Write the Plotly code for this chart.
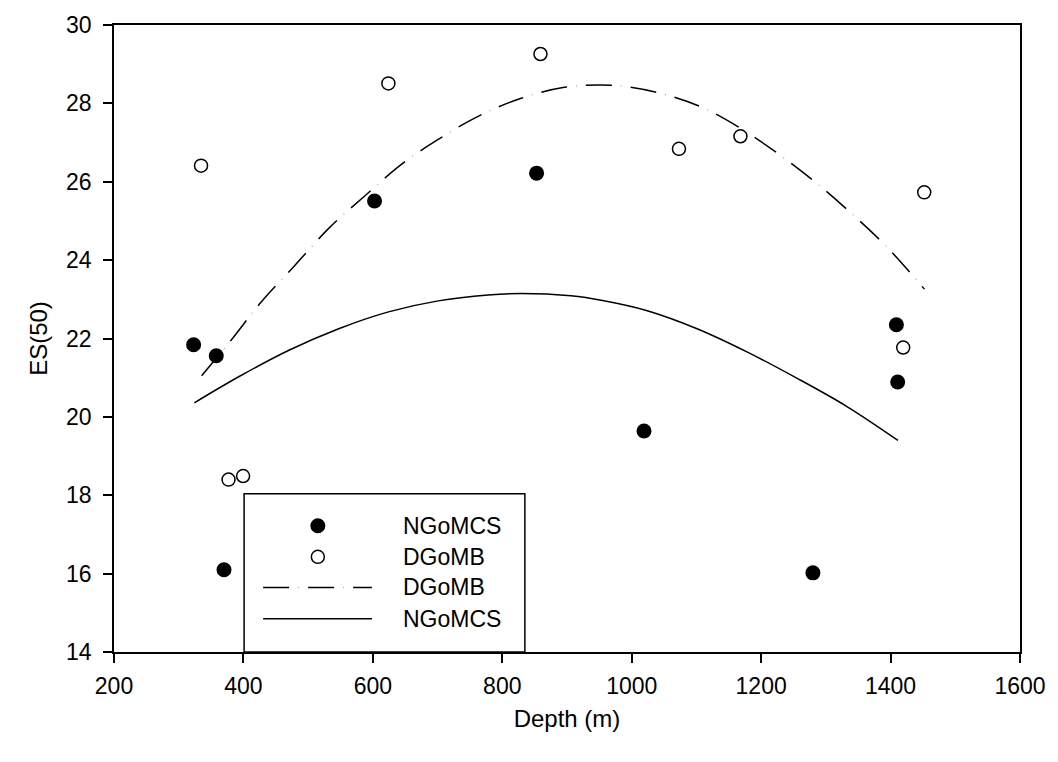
import plotly.graph_objects as go

# Sampled stations: depth (m) and ES(50)
ngomcs_depth = [323, 358, 370, 602.6, 853, 1019, 1280, 1409, 1411]
ngomcs_es50 = [21.84, 21.56, 16.10, 25.51, 26.22, 19.64, 16.02, 22.35, 20.89]

dgomb_depth = [334.5, 377, 399.5, 624, 859, 1073, 1168, 1419.5, 1452]
dgomb_es50 = [26.41, 18.40, 18.49, 28.51, 29.26, 26.84, 27.16, 21.77, 25.73]

# Fitted trend curves
dgomb_fit_depth = [335.4, 380.6, 426.8, 478, 531.8, 588.3, 644.6, 701, 762.6, 829.2,
                   896, 952, 998.5, 1055, 1111.4, 1167.7, 1224.2, 1280.6, 1337,
                   1393.4, 1452.3]
dgomb_fit_es50 = [21.05, 21.95, 22.92, 23.84, 24.81, 25.65, 26.45, 27.08, 27.67, 28.13,
                  28.41, 28.47, 28.41, 28.21, 27.88, 27.37, 26.74, 26.03, 25.23,
                  24.35, 23.26]

ngomcs_fit_depth = [324.2, 393.4, 470.3, 547.2, 624.2, 701, 778, 829.2, 906.2, 955,
                    1024, 1101, 1178, 1255, 1332, 1411.4]
ngomcs_fit_es50 = [20.36, 21.03, 21.70, 22.25, 22.68, 22.96, 23.11, 23.15, 23.09, 22.97,
                   22.71, 22.25, 21.66, 20.99, 20.27, 19.40]

x_ticks = [200, 400, 600, 800, 1000, 1200, 1400, 1600]
y_ticks = [14, 16, 18, 20, 22, 24, 26, 28, 30]

legend_labels = ["NGoMCS", "DGoMB", "DGoMB", "NGoMCS"]

FONT = "Liberation Sans, Arial, sans-serif"
# long dash with a faint dot in the middle of each gap
DASH_MAIN = "26px,19px"
DASH_DOT = "0px,35px,1px,9px"
DOT_COLOR = "#b0b0b0"

fig = go.Figure()

fig.add_trace(go.Scatter(
    x=dgomb_fit_depth, y=dgomb_fit_es50, mode="lines", line_shape="spline",
    line=dict(color=DOT_COLOR, width=1.5, dash=DASH_DOT), showlegend=False,
    hoverinfo="skip"))
fig.add_trace(go.Scatter(
    x=dgomb_fit_depth, y=dgomb_fit_es50, mode="lines", line_shape="spline",
    line=dict(color="black", width=1.5, dash=DASH_MAIN), showlegend=False))
fig.add_trace(go.Scatter(
    x=ngomcs_fit_depth, y=ngomcs_fit_es50, mode="lines", line_shape="spline",
    line=dict(color="black", width=1.5), showlegend=False))
fig.add_trace(go.Scatter(
    x=ngomcs_depth, y=ngomcs_es50, mode="markers",
    marker=dict(symbol="circle", size=15, color="black", line=dict(width=0)),
    showlegend=False))
fig.add_trace(go.Scatter(
    x=dgomb_depth, y=dgomb_es50, mode="markers",
    marker=dict(symbol="circle", size=13, color="white",
                line=dict(color="black", width=1.5)),
    showlegend=False))

# Legend box drawn in paper coordinates
lx0, lx1, ly0, ly1 = 0.1436, 0.4535, 0.0, 0.2522
row_y = [0.2013, 0.1518, 0.1029, 0.0531]
sym_x = 0.2250
line_x0, line_x1 = 0.1646, 0.2847
text_x = 0.3165

shapes = [dict(type="rect", xref="paper", yref="paper", x0=lx0, x1=lx1, y0=ly0, y1=ly1,
               line=dict(color="black", width=1.5), fillcolor="white", layer="above")]
# marker samples
shapes.append(dict(type="circle", xref="paper", yref="paper", xsizemode="pixel",
                   ysizemode="pixel", xanchor=sym_x, yanchor=row_y[0],
                   x0=-7.5, x1=7.5, y0=-7.5, y1=7.5, fillcolor="black",
                   line=dict(width=0), layer="above"))
shapes.append(dict(type="circle", xref="paper", yref="paper", xsizemode="pixel",
                   ysizemode="pixel", xanchor=sym_x, yanchor=row_y[1],
                   x0=-6.5, x1=6.5, y0=-6.5, y1=6.5, fillcolor="white",
                   line=dict(color="black", width=1.5), layer="above"))
# line samples
shapes.append(dict(type="line", xref="paper", yref="paper", x0=line_x0, x1=line_x1,
                   y0=row_y[2], y1=row_y[2],
                   line=dict(color=DOT_COLOR, width=1.5, dash=DASH_DOT), layer="above"))
shapes.append(dict(type="line", xref="paper", yref="paper", x0=line_x0, x1=line_x1,
                   y0=row_y[2], y1=row_y[2],
                   line=dict(color="black", width=1.5, dash=DASH_MAIN), layer="above"))
shapes.append(dict(type="line", xref="paper", yref="paper", x0=line_x0, x1=line_x1,
                   y0=row_y[3], y1=row_y[3],
                   line=dict(color="black", width=1.5), layer="above"))

annotations = [dict(text=lab, xref="paper", yref="paper", x=text_x, y=yy,
                    xanchor="left", yanchor="middle", showarrow=False,
                    font=dict(family=FONT, size=23, color="black"))
               for lab, yy in zip(legend_labels, row_y)]

axis_common = dict(
    showgrid=False, zeroline=False, showline=True, linecolor="black", linewidth=1.5,
    mirror=True, ticks="outside", ticklen=9, tickwidth=1.5, tickcolor="black",
    tickfont=dict(family=FONT, size=23, color="black"),
)

fig.update_layout(
    width=1058, height=762,
    margin=dict(l=114, r=34, t=17, b=110),
    paper_bgcolor="white", plot_bgcolor="white",
    showlegend=False,
    shapes=shapes,
    annotations=annotations,
    xaxis=dict(range=[200, 1600], tickvals=x_ticks, ticklabelstandoff=4,
               title=dict(text="Depth (m)", standoff=12,
                          font=dict(family=FONT, size=24, color="black")),
               **axis_common),
    yaxis=dict(range=[14, 30], tickvals=y_ticks, ticklabelstandoff=7,
               title=dict(text="ES(50)", standoff=12,
                          font=dict(family=FONT, size=24, color="black")),
               **axis_common),
)

fig.write_html("out.html")
